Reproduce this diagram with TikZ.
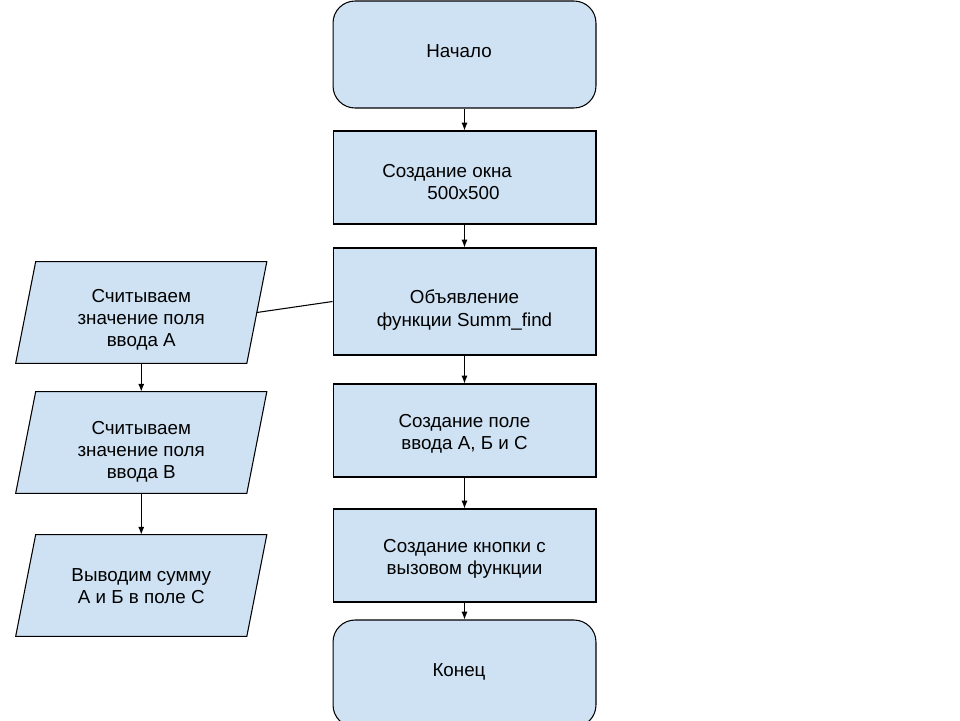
\documentclass[tikz,border=0pt]{standalone}
\usepackage{fontspec}
\setmainfont{Liberation Sans}
\usetikzlibrary{arrows.meta,calc}
\definecolor{boxfill}{HTML}{CFE2F3}
\begin{document}
\begin{tikzpicture}[x=0.02cm,y=-0.02cm,
  every node/.style={font=\fontsize{10.7}{12.6}\selectfont, align=center, inner sep=0pt},
  proc/.style={draw=black, fill=boxfill, line width=0.6pt, minimum width=5.26cm, minimum height=1.86cm},
  term/.style={proc, rounded corners=0.44cm, minimum height=2.14cm},
  iobox/.style={minimum width=4.61cm, minimum height=2.02cm},
  para/.style={draw=black, fill=boxfill, line width=0.6pt},
  flow/.style={-{Latex[length=4.5pt,width=3.5pt]}, line width=0.6pt},
  link/.style={line width=0.6pt}]
\useasboundingbox (0,0) rectangle (960,720);

% main column: shapes
\node[term] (start) at (464.5,54.5) {};
\node[proc] (window) at (464.5,177.5) {};
\node[proc, minimum height=2.14cm] (decl) at (464.5,301.5) {};
\node[proc] (fields) at (464.5,430.5) {};
\node[proc] (button) at (464.5,555.5) {};
\node[term] (stop) at (464.5,673.5) {};

% main column: texts
\node (startT) at (459,51.5) {Начало};
\node[anchor=west, align=left] (windowT) at (382,182) {Создание окна\\\hspace*{0.9cm}500x500};
\node (declT) at (464.5,310) {Объявление\\функции Summ\_find};
\node (fieldsT) at (464.5,434) {Создание поле\\ввода А, Б и С};
\node (buttonT) at (464.5,558.5) {Создание кнопки с\\вызовом функции};
\node (stopT) at (459,672) {Конец};

% function body: input/output blocks
\foreach \name/\cy in {readA/312.5, readB/442.5, sum/585.5} {
  \node[iobox] (\name) at (141.25,\cy) {};
  \draw[para] ($(\name.south west)+(-10,0)$) -- ($(\name.north west)+(10,0)$)
    -- ($(\name.north east)+(10,0)$) -- ($(\name.south east)+(-10,0)$) -- cycle;
}
\node (readAT) at (141.25,320) {Считываем\\значение поля\\ввода А};
\node (readBT) at (141.25,452) {Считываем\\значение поля\\ввода В};
\node (sumT) at (141.25,586) {Выводим сумму\\А и Б в поле С};

% connectors
\draw[flow] (start) -- (window);
\draw[flow] (window) -- (decl);
\draw[flow] (decl) -- (fields);
\draw[flow] (fields) -- (button);
\draw[flow] (button) -- (stop);
\draw[flow] (readA.south) -- (readB.north);
\draw[flow] (readB.south) -- (sum.north);
\draw[link] (readA.east) -- (decl.west);
\end{tikzpicture}
\end{document}
